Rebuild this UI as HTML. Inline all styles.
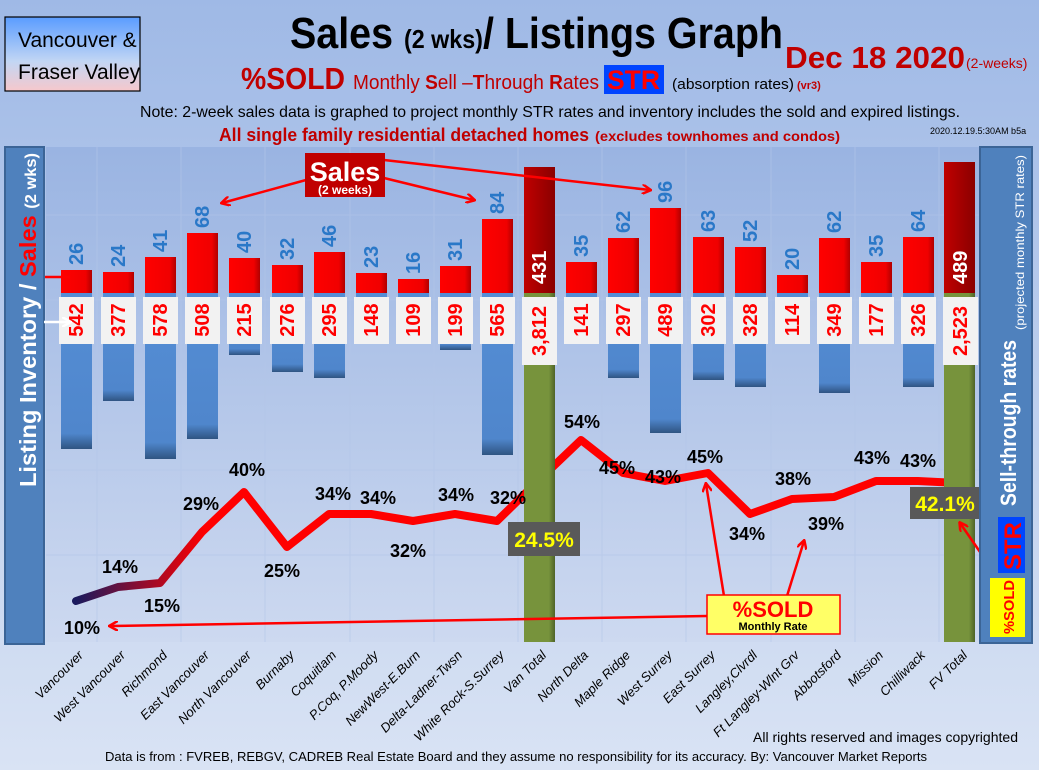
<!DOCTYPE html>
<html><head><meta charset="utf-8"><style>
html,body{margin:0;padding:0;width:1039px;height:770px;overflow:hidden;background:#b4c8ec}
svg{display:block}
text{font-family:"Liberation Sans Narrow","Liberation Sans",sans-serif}
.s{font:bold 20px "Liberation Sans",sans-serif;fill:#2a78c8}
.i{font:bold 20px "Liberation Sans",sans-serif;fill:#ff0000}
.p{font:bold 18px "Liberation Sans",sans-serif;fill:#000}
.c{font:italic 13px "Liberation Sans",sans-serif;fill:#000}
</style></head><body>
<svg width="1039" height="770" viewBox="0 0 1039 770" xmlns="http://www.w3.org/2000/svg">
<defs>
<linearGradient id="bg" x1="0" y1="0" x2="0" y2="1"><stop offset="0" stop-color="#9fb9e6"/><stop offset="1" stop-color="#d9e3f4"/></linearGradient>
<linearGradient id="pa" x1="0" y1="0" x2="0" y2="1"><stop offset="0" stop-color="#9ab4e2"/><stop offset="1" stop-color="#cdd9f0"/></linearGradient>
<linearGradient id="bx" x1="0" y1="0" x2="0" y2="1"><stop offset="0" stop-color="#5a9cff"/><stop offset="0.6" stop-color="#c2d6f4"/><stop offset="1" stop-color="#f6c8cc"/></linearGradient>
<linearGradient id="rd" x1="0" y1="0" x2="1" y2="0"><stop offset="0" stop-color="#ff0000"/><stop offset="0.8" stop-color="#f00000"/><stop offset="1" stop-color="#b00000"/></linearGradient>
<linearGradient id="dr" x1="0" y1="0" x2="1" y2="0"><stop offset="0" stop-color="#c00000"/><stop offset="1" stop-color="#8a0000"/></linearGradient>
<linearGradient id="bl" x1="0" y1="0" x2="0" y2="1"><stop offset="0" stop-color="#558ed5"/><stop offset="0.9" stop-color="#4f86cc"/><stop offset="1" stop-color="#2f5482"/></linearGradient>
<linearGradient id="gr" x1="0" y1="0" x2="1" y2="0"><stop offset="0" stop-color="#77933c"/><stop offset="0.8" stop-color="#77933c"/><stop offset="1" stop-color="#4f6328"/></linearGradient>
<linearGradient id="ln" gradientUnits="userSpaceOnUse" x1="76" y1="0" x2="205" y2="0"><stop offset="0" stop-color="#1a1a5e"/><stop offset="1" stop-color="#ff0000"/></linearGradient>
<marker id="ah" markerWidth="10" markerHeight="10" refX="8" refY="5" orient="auto" markerUnits="userSpaceOnUse"><path d="M0,0 L9,5 L0,10" fill="none" stroke="#ff0000" stroke-width="2.5"/></marker>
<marker id="aw" markerWidth="10" markerHeight="10" refX="8" refY="5" orient="auto" markerUnits="userSpaceOnUse"><path d="M0,0 L9,5 L0,10" fill="none" stroke="#fff" stroke-width="2.5"/></marker>
</defs>
<rect width="1039" height="770" fill="url(#bg)"/>
<rect x="46" y="147" width="934" height="495" fill="url(#pa)"/>
<g stroke="#b3c6e8" stroke-width="1" opacity="0.6">
<line x1="46" y1="215" x2="980" y2="215"/><line x1="46" y1="300" x2="980" y2="300"/><line x1="46" y1="385" x2="980" y2="385"/><line x1="46" y1="470" x2="980" y2="470"/><line x1="46" y1="555" x2="980" y2="555"/>
<line x1="97" y1="147" x2="97" y2="642"/><line x1="181" y1="147" x2="181" y2="642"/><line x1="265" y1="147" x2="265" y2="642"/><line x1="350" y1="147" x2="350" y2="642"/><line x1="434" y1="147" x2="434" y2="642"/><line x1="518" y1="147" x2="518" y2="642"/><line x1="602" y1="147" x2="602" y2="642"/><line x1="686" y1="147" x2="686" y2="642"/><line x1="771" y1="147" x2="771" y2="642"/><line x1="855" y1="147" x2="855" y2="642"/><line x1="939" y1="147" x2="939" y2="642"/>
</g>

<!-- Header -->
<rect x="5" y="17" width="135" height="74" fill="url(#bx)" stroke="#000" stroke-width="1.2"/>
<text x="18" y="47" font-size="21" fill="#000">Vancouver &amp;</text>
<text x="18" y="79" font-size="21" fill="#000">Fraser Valley</text>
<text x="290" y="48" font-weight="bold" font-size="44" fill="#000" textLength="493" lengthAdjust="spacingAndGlyphs">Sales <tspan font-size="26">(2 wks)</tspan>/ Listings Graph</text>
<text x="785" y="68" font-weight="bold" font-size="31" fill="#c00000" textLength="180" lengthAdjust="spacingAndGlyphs">Dec 18  2020</text>
<text x="966" y="68" font-size="14" fill="#c00000">(2-weeks)</text>
<text x="241" y="89" font-weight="bold" font-size="31" fill="#c00000" textLength="104" lengthAdjust="spacingAndGlyphs">%SOLD</text>
<text x="353" y="89" font-size="20" fill="#c00000" textLength="246" lengthAdjust="spacingAndGlyphs">Monthly <tspan font-weight="bold">S</tspan>ell –<tspan font-weight="bold">T</tspan>hrough <tspan font-weight="bold">R</tspan>ates</text>
<rect x="604" y="65" width="60" height="29" fill="#0044ff"/>
<text x="607" y="89" font-weight="bold" font-size="27" fill="#ff0000" textLength="53" lengthAdjust="spacingAndGlyphs">STR</text>
<text x="672" y="89" font-size="15" fill="#000" textLength="122" lengthAdjust="spacingAndGlyphs">(absorption rates)</text>
<text x="797" y="89" font-size="11" font-weight="bold" fill="#c00000">(vr3)</text>
<text x="140" y="117" font-size="16" fill="#000" textLength="820" lengthAdjust="spacingAndGlyphs">Note: 2-week sales data is graphed to project monthly STR rates and inventory includes the sold and expired listings.</text>
<text x="219" y="141" font-weight="bold" font-size="18" fill="#c00000" textLength="370" lengthAdjust="spacingAndGlyphs">All single family residential detached homes</text>
<text x="595" y="141" font-weight="bold" font-size="14" fill="#c00000" textLength="245" lengthAdjust="spacingAndGlyphs">(excludes townhomes and condos)</text>
<text x="930" y="134" font-size="9" fill="#000">2020.12.19.5:30AM b5a</text>

<!-- Line (behind bars) -->
<polyline fill="none" stroke="url(#ln)" stroke-width="8" stroke-linejoin="round" stroke-linecap="round" points="76,601 118,587 160,583 202,532 244,492 287,547 329,514 371,514 413,521 455,514 497,521 539,480 581,440 623,473 665,481 708,473 750,514 792,499 834,497 876,481 918,481 958,483"/>

<!-- Sales bars -->
<g fill="url(#rd)">
<rect x="61" y="270" width="31" height="23"/><rect x="103" y="272" width="31" height="21"/><rect x="145" y="257" width="31" height="36"/><rect x="187" y="233" width="31" height="60"/><rect x="229" y="258" width="31" height="35"/><rect x="272" y="265" width="31" height="28"/><rect x="314" y="252" width="31" height="41"/><rect x="356" y="273" width="31" height="20"/><rect x="398" y="279" width="31" height="14"/><rect x="440" y="266" width="31" height="27"/><rect x="482" y="219" width="31" height="74"/>
<rect x="566" y="262" width="31" height="31"/><rect x="608" y="238" width="31" height="55"/><rect x="650" y="208" width="31" height="85"/><rect x="693" y="237" width="31" height="56"/><rect x="735" y="247" width="31" height="46"/><rect x="777" y="275" width="31" height="18"/><rect x="819" y="238" width="31" height="55"/><rect x="861" y="262" width="31" height="31"/><rect x="903" y="237" width="31" height="56"/>
</g>
<rect x="524" y="167" width="31" height="126" fill="url(#dr)"/>
<rect x="944" y="162" width="31" height="131" fill="url(#dr)"/>
<!-- Inventory bars -->
<g fill="url(#bl)">
<rect x="61" y="293" width="31" height="156"/><rect x="103" y="293" width="31" height="108"/><rect x="145" y="293" width="31" height="166"/><rect x="187" y="293" width="31" height="146"/><rect x="229" y="293" width="31" height="62"/><rect x="272" y="293" width="31" height="79"/><rect x="314" y="293" width="31" height="85"/><rect x="356" y="293" width="31" height="43"/><rect x="398" y="293" width="31" height="31"/><rect x="440" y="293" width="31" height="57"/><rect x="482" y="293" width="31" height="162"/>
<rect x="566" y="293" width="31" height="41"/><rect x="608" y="293" width="31" height="85"/><rect x="650" y="293" width="31" height="140"/><rect x="693" y="293" width="31" height="87"/><rect x="735" y="293" width="31" height="94"/><rect x="777" y="293" width="31" height="33"/><rect x="819" y="293" width="31" height="100"/><rect x="861" y="293" width="31" height="51"/><rect x="903" y="293" width="31" height="94"/>
</g>
<rect x="524" y="293" width="31" height="349" fill="url(#gr)"/>
<rect x="944" y="293" width="31" height="349" fill="url(#gr)"/>

<!-- inventory label boxes -->
<g fill="#f2f2f2">
<rect x="59" y="297" width="35" height="47"/><rect x="101" y="297" width="35" height="47"/><rect x="143" y="297" width="35" height="47"/><rect x="185" y="297" width="35" height="47"/><rect x="227" y="297" width="35" height="47"/><rect x="270" y="297" width="35" height="47"/><rect x="312" y="297" width="35" height="47"/><rect x="354" y="297" width="35" height="47"/><rect x="396" y="297" width="35" height="47"/><rect x="438" y="297" width="35" height="47"/><rect x="480" y="297" width="35" height="47"/><rect x="522" y="297" width="35" height="68"/>
<rect x="564" y="297" width="35" height="47"/><rect x="606" y="297" width="35" height="47"/><rect x="648" y="297" width="35" height="47"/><rect x="691" y="297" width="35" height="47"/><rect x="733" y="297" width="35" height="47"/><rect x="775" y="297" width="35" height="47"/><rect x="817" y="297" width="35" height="47"/><rect x="859" y="297" width="35" height="47"/><rect x="901" y="297" width="35" height="47"/><rect x="943" y="297" width="35" height="68"/>
</g>
<g class="i" text-anchor="middle">
<text transform="translate(83,320) rotate(-90)">542</text><text transform="translate(125,320) rotate(-90)">377</text><text transform="translate(167,320) rotate(-90)">578</text><text transform="translate(209,320) rotate(-90)">508</text><text transform="translate(251,320) rotate(-90)">215</text><text transform="translate(294,320) rotate(-90)">276</text><text transform="translate(336,320) rotate(-90)">295</text><text transform="translate(378,320) rotate(-90)">148</text><text transform="translate(420,320) rotate(-90)">109</text><text transform="translate(462,320) rotate(-90)">199</text><text transform="translate(504,320) rotate(-90)">565</text><text transform="translate(546,331) rotate(-90)">3,812</text>
<text transform="translate(588,320) rotate(-90)">141</text><text transform="translate(630,320) rotate(-90)">297</text><text transform="translate(672,320) rotate(-90)">489</text><text transform="translate(715,320) rotate(-90)">302</text><text transform="translate(757,320) rotate(-90)">328</text><text transform="translate(799,320) rotate(-90)">114</text><text transform="translate(841,320) rotate(-90)">349</text><text transform="translate(883,320) rotate(-90)">177</text><text transform="translate(925,320) rotate(-90)">326</text><text transform="translate(967,331) rotate(-90)">2,523</text>
</g>
<!-- sales labels -->
<g class="s">
<text transform="translate(83,265) rotate(-90)">26</text><text transform="translate(125,267) rotate(-90)">24</text><text transform="translate(167,252) rotate(-90)">41</text><text transform="translate(209,228) rotate(-90)">68</text><text transform="translate(251,253) rotate(-90)">40</text><text transform="translate(294,260) rotate(-90)">32</text><text transform="translate(336,247) rotate(-90)">46</text><text transform="translate(378,268) rotate(-90)">23</text><text transform="translate(420,274) rotate(-90)">16</text><text transform="translate(462,261) rotate(-90)">31</text><text transform="translate(504,214) rotate(-90)">84</text>
<text transform="translate(588,257) rotate(-90)">35</text><text transform="translate(630,233) rotate(-90)">62</text><text transform="translate(672,203) rotate(-90)">96</text><text transform="translate(715,232) rotate(-90)">63</text><text transform="translate(757,242) rotate(-90)">52</text><text transform="translate(799,270) rotate(-90)">20</text><text transform="translate(841,233) rotate(-90)">62</text><text transform="translate(883,257) rotate(-90)">35</text><text transform="translate(925,232) rotate(-90)">64</text>
</g>
<g class="s" style="fill:#fff">
<text transform="translate(546,284) rotate(-90)">431</text><text transform="translate(967,284) rotate(-90)">489</text>
</g>

<!-- percent labels -->
<g class="p" text-anchor="middle">
<text x="82" y="634">10%</text><text x="120" y="573">14%</text><text x="162" y="612">15%</text><text x="201" y="510">29%</text><text x="247" y="476">40%</text><text x="282" y="577">25%</text><text x="333" y="500">34%</text><text x="378" y="504">34%</text><text x="408" y="557">32%</text><text x="456" y="501">34%</text><text x="508" y="504">32%</text>
<text x="582" y="428">54%</text><text x="617" y="474">45%</text><text x="663" y="483">43%</text><text x="705" y="463">45%</text><text x="747" y="540">34%</text><text x="793" y="485">38%</text><text x="826" y="530">39%</text><text x="872" y="464">43%</text><text x="918" y="467">43%</text>
</g>
<rect x="508" y="522" width="72" height="34" fill="#595959"/>
<text x="544" y="547" text-anchor="middle" font-family="Liberation Sans" font-weight="bold" font-size="21" fill="#ffff00">24.5%</text>
<rect x="910" y="487" width="69" height="32" fill="#595959"/>
<text x="945" y="511" text-anchor="middle" font-family="Liberation Sans" font-weight="bold" font-size="21" fill="#ffff00">42.1%</text>

<!-- Sales callout -->
<g stroke="#ff0000" stroke-width="2.5" fill="none">
<line x1="306" y1="180" x2="222" y2="203" marker-end="url(#ah)"/>
<line x1="384" y1="178" x2="474" y2="200" marker-end="url(#ah)"/>
<line x1="384" y1="160" x2="650" y2="190" marker-end="url(#ah)"/>
<line x1="707" y1="616" x2="110" y2="626" marker-end="url(#ah)"/>
<line x1="724" y1="596" x2="706" y2="484" marker-end="url(#ah)"/>
<line x1="787" y1="596" x2="804" y2="541" marker-end="url(#ah)"/>
<line x1="998" y1="578" x2="960" y2="523" marker-end="url(#ah)"/>
<line x1="44" y1="277" x2="70" y2="277"/>
</g>
<rect x="305" y="153" width="80" height="44" fill="#c00000"/>
<text x="345" y="181" text-anchor="middle" font-family="Liberation Sans" font-weight="bold" font-size="27" fill="#fff">Sales</text>
<text x="345" y="194" text-anchor="middle" font-family="Liberation Sans" font-weight="bold" font-size="12" fill="#fff">(2 weeks)</text>
<rect x="707" y="595" width="133" height="39" fill="#ffff66" stroke="#ff0000" stroke-width="1.5"/>
<text x="773" y="617" text-anchor="middle" font-family="Liberation Sans" font-weight="bold" font-size="22" fill="#ff0000">%SOLD</text>
<text x="773" y="630" text-anchor="middle" font-family="Liberation Sans" font-weight="bold" font-size="11" fill="#000">Monthly Rate</text>

<!-- Left panel -->
<rect x="5" y="147" width="39" height="497" fill="#4f81bd" stroke="#3b6496" stroke-width="2"/>
<line x1="44" y1="322" x2="70" y2="322" stroke="#fff" stroke-width="2.5" marker-end="url(#aw)"/>
<text transform="translate(36,487) rotate(-90)" font-family="Liberation Sans" font-weight="bold" font-size="23" fill="#fff" textLength="334" lengthAdjust="spacingAndGlyphs">Listing Inventory / <tspan fill="#ff0000">Sales</tspan> <tspan font-size="16">(2  wks)</tspan></text>
<!-- Right panel -->
<rect x="980" y="147" width="52" height="496" fill="#4f81bd" stroke="#3b6496" stroke-width="2"/>
<text transform="translate(1016,506) rotate(-90)" font-family="Liberation Sans" font-weight="bold" font-size="22" fill="#fff" textLength="166" lengthAdjust="spacingAndGlyphs">Sell-through rates</text>
<text transform="translate(1024,330) rotate(-90)" font-family="Liberation Sans" font-size="12" fill="#fff" textLength="175" lengthAdjust="spacingAndGlyphs">(projected monthly STR rates)</text>
<rect x="998" y="517" width="27" height="56" fill="#0044ff"/>
<text transform="translate(1021,570) rotate(-90)" font-family="Liberation Sans" font-weight="bold" font-size="24" fill="#ff0000">STR</text>
<rect x="990" y="578" width="35" height="59" fill="#ffff00"/>
<text transform="translate(1014,634) rotate(-90)" font-family="Liberation Sans" font-weight="bold" font-size="15" fill="#ff0000" textLength="54" lengthAdjust="spacingAndGlyphs">%SOLD</text>

<!-- category labels -->
<g class="c" text-anchor="end">
<text transform="translate(84,656) rotate(-45)">Vancouver</text>
<text transform="translate(126,656) rotate(-45)">West Vancouver</text>
<text transform="translate(168,656) rotate(-45)">Richmond</text>
<text transform="translate(210,656) rotate(-45)">East Vancouver</text>
<text transform="translate(252,656) rotate(-45)">North Vancouver</text>
<text transform="translate(295,656) rotate(-45)">Burnaby</text>
<text transform="translate(337,656) rotate(-45)">Coquitlam</text>
<text transform="translate(379,656) rotate(-45)">P.Coq, P.Moody</text>
<text transform="translate(421,656) rotate(-45)">NewWest-E.Burn</text>
<text transform="translate(463,656) rotate(-45)">Delta-Ladner-Twsn</text>
<text transform="translate(505,656) rotate(-45)">White Rock-S.Surrey</text>
<text transform="translate(547,656) rotate(-45)">Van Total</text>
<text transform="translate(589,656) rotate(-45)">North Delta</text>
<text transform="translate(631,656) rotate(-45)">Maple Ridge</text>
<text transform="translate(673,656) rotate(-45)">West Surrey</text>
<text transform="translate(716,656) rotate(-45)">East Surrey</text>
<text transform="translate(758,656) rotate(-45)">Langley,Clvrdl</text>
<text transform="translate(800,656) rotate(-45)">Ft Langley-Wlnt Grv</text>
<text transform="translate(842,656) rotate(-45)">Abbotsford</text>
<text transform="translate(884,656) rotate(-45)">Mission</text>
<text transform="translate(926,656) rotate(-45)">Chilliwack</text>
<text transform="translate(968,656) rotate(-45)">FV Total</text>
</g>
<text x="1018" y="742" text-anchor="end" font-size="14" fill="#000" textLength="265" lengthAdjust="spacingAndGlyphs">All rights reserved and  images copyrighted</text>
<text x="105" y="761" font-size="13" fill="#000" textLength="822" lengthAdjust="spacingAndGlyphs">Data is from : FVREB, REBGV, CADREB Real Estate Board and they assume no responsibility for its accuracy. By: Vancouver Market Reports</text>
</svg>
</body></html>
